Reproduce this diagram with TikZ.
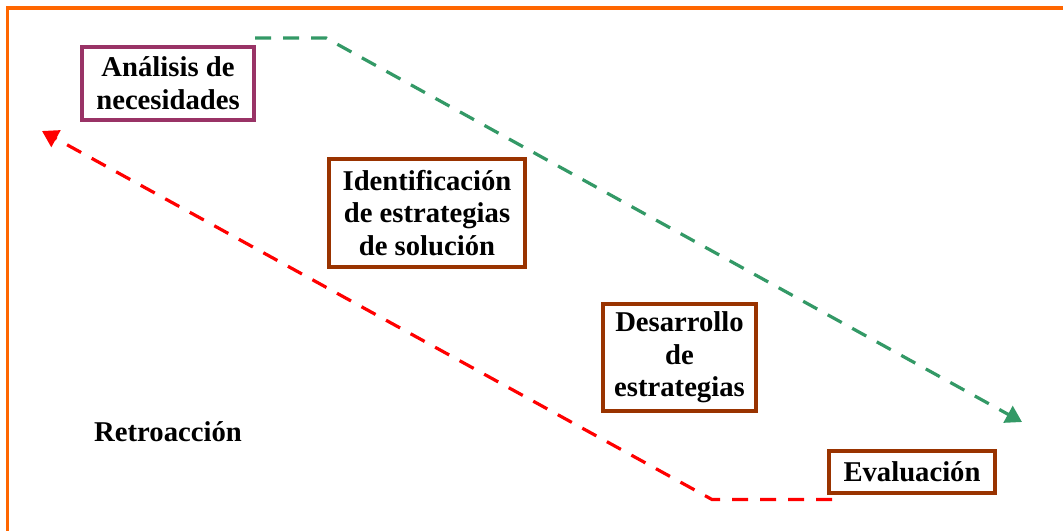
\documentclass[tikz,border=0pt]{standalone}
\usepackage{fontspec}
\setmainfont{Liberation Serif}
\usetikzlibrary{arrows.meta}
\definecolor{frameorange}{HTML}{FF6600}
\definecolor{boxpurple}{HTML}{993366}
\definecolor{boxbrown}{HTML}{993300}
\definecolor{flowgreen}{HTML}{339966}
\definecolor{flowred}{HTML}{FF0000}
\tikzset{
  stagebox/.style={draw=boxbrown, line width=2.7pt, fill=white, align=center, inner sep=0pt,
    font=\bfseries\fontsize{21.5}{24.5}\selectfont, text=black},
  plainlabel/.style={align=center, inner sep=0pt, font=\bfseries\fontsize{21.5}{24.5}\selectfont, text=black},
  flowline/.style={line width=2.4pt, dash pattern=on 12pt off 9pt},
  tipstyle/.style={-{Triangle[length=12pt,width=14pt]}}
}
\begin{document}
\begin{tikzpicture}[x=0.75pt,y=-0.75pt]
\useasboundingbox (0,0) rectangle (1063,531);
\fill[white] (0,0) rectangle (1063,531);
% frame
\draw[frameorange, line width=2.4pt] (7.5,531) -- (7.5,8) -- (1063,8);
% boxes
\node[stagebox, draw=boxpurple, minimum width=172*0.75pt, minimum height=73*0.75pt] (anal) at (168,83.5) {Análisis de\\necesidades};
\node[stagebox, minimum width=196*0.75pt, minimum height=108*0.75pt] (ident) at (427,213) {Identificación\\de estrategias\\de solución};
\node[stagebox, minimum width=153*0.75pt, minimum height=107*0.75pt] (desa) at (679.5,357.5) {Desarrollo\\de\\estrategias};
\node[stagebox, minimum width=166*0.75pt, minimum height=42*0.75pt] (eval) at (912,472) {Evaluación};
\node[plainlabel] (retro) at (168,432) {Retroacción};
% flow coordinates
\coordinate (gs) at (255,38);
\coordinate (gk) at (326,38);
\coordinate (ge) at (1022,422);
\coordinate (rs) at (832,499.5);
\coordinate (rk) at (712,499.5);
\coordinate (re) at (42,131);
\draw[flowline, flowgreen, tipstyle] (gs) -- (gk) -- (ge);
\draw[flowline, flowred, tipstyle] (rs) -- (rk) -- (re);
\end{tikzpicture}
\end{document}
